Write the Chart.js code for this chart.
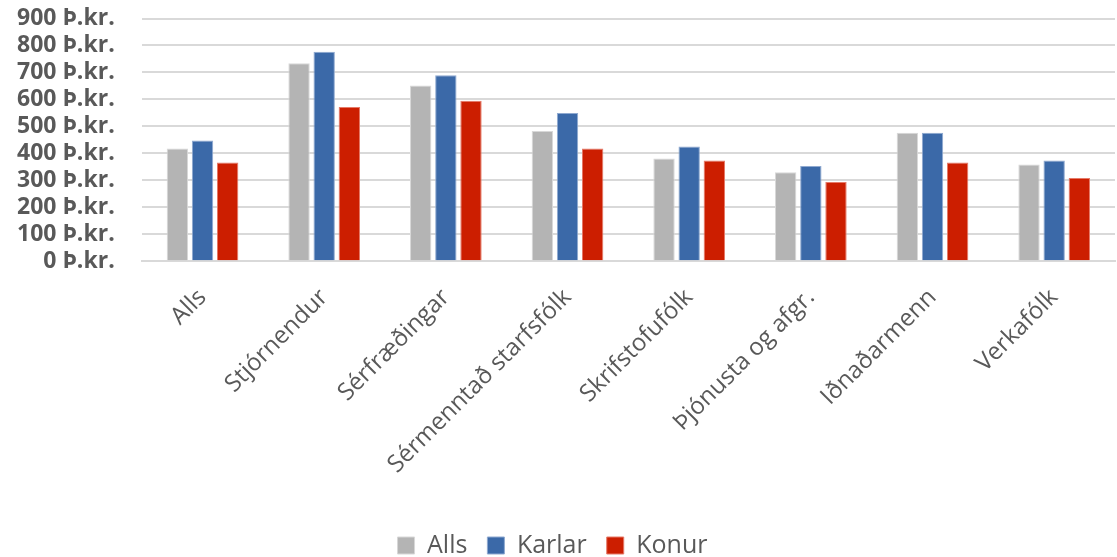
<!DOCTYPE html>
<html lang="is">
<head>
    <meta charset="UTF-8">
    <title>Laun eftir starfsstéttum</title>
    <style>
        html, body { margin: 0; padding: 0; background: #fff; }
        .frame { width: 1117px; height: 557px; overflow: hidden; position: relative; }
        /* teikniflöturinn er aðeins stærri og færður upp/til vinstri */
        .chart-box { width: 1127px; height: 577px; position: absolute; left: -10px; top: -20px; }
    </style>
</head>
<body>
    <div class="frame">
        <div class="chart-box">
            <canvas id="launChart"></canvas>
        </div>
    </div>

    <script src="https://cdn.jsdelivr.net/npm/chart.js"></script>
    <script>
// Gögn
const flokkar = ["Alls", "Stjórnendur", "Sérfræðingar", "Sérmenntað starfsfólk", "Skrifstofufólk", "Þjónusta og afgr.", "Iðnaðarmenn", "Verkafólk"];
const alls   = [418, 734, 652, 483, 381, 330, 477, 359];
const karlar = [448, 777, 690, 550, 426, 353, 477, 374];
const konur  = [366, 572, 595, 418, 374, 294, 366, 309];
const yTicks = [0, 100, 200, 300, 400, 500, 600, 700, 800, 900];

const textColor = "#595959";
Chart.defaults.font.family = "'Open Sans', 'Liberation Sans', sans-serif";
Chart.defaults.color = textColor;

new Chart(document.getElementById("launChart"), {
    type: "bar",
    data: {
        labels: flokkar,
        datasets: [
            { label: "Alls",   data: alls,   backgroundColor: "#b4b4b4", borderColor: "#d8d8d8", borderWidth: 1 },
            { label: "Karlar", data: karlar, backgroundColor: "#3b69a8", borderColor: "#8fa9d0", borderWidth: 1 },
            { label: "Konur",  data: konur,  backgroundColor: "#cc1e00", borderColor: "#e67a68", borderWidth: 1 }
        ]
    },
    options: {
        responsive: true,
        maintainAspectRatio: false,
        animation: false,
        layout: { padding: { top: 0, right: 2, left: 0, bottom: -11 } },
        datasets: { bar: { categoryPercentage: 0.62, barPercentage: 0.85 } },
        scales: {
            x: {
                grid: { display: false },
                border: { color: "#d9d9d9", width: 2 },
                afterFit: (scale) => { scale.height += 20; },
                ticks: {
                    color: textColor,
                    font: { size: 24 },
                    autoSkip: false,
                    minRotation: 45,
                    maxRotation: 45,
                    padding: 14
                }
            },
            y: {
                min: 0,
                max: 900,
                afterBuildTicks: (axis) => { axis.ticks = yTicks.map(v => ({ value: v })); },
                grid: { color: "#d9d9d9", lineWidth: 2, drawTicks: false },
                border: { display: false },
                ticks: {
                    color: textColor,
                    font: { size: 23, weight: "bold", lineHeight: 1.0 },
                    autoSkip: false,
                    padding: 27,
                    callback: (v) => v + " Þ.kr."
                }
            }
        },
        plugins: {
            legend: {
                position: "bottom",
                labels: {
                    color: textColor,
                    font: { size: 25 },
                    boxWidth: 17,
                    boxHeight: 17,
                    padding: 20
                }
            },
            tooltip: { enabled: false }
        }
    }
});
    </script>
</body>
</html>
